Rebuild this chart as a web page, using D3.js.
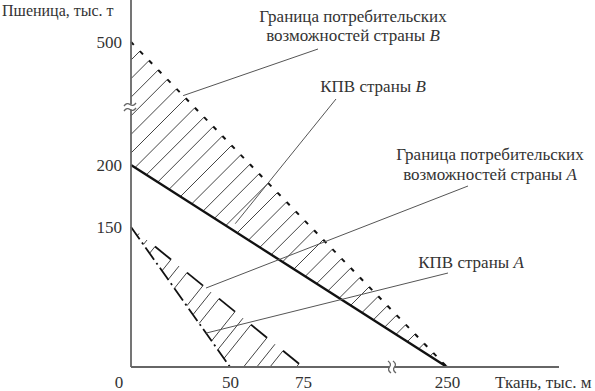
<!DOCTYPE html>
<html><head><meta charset="utf-8">
<script src="https://cdn.jsdelivr.net/npm/d3@7"></script>
<style>body{margin:0;background:#fff} svg{display:block}</style>
</head><body><svg id="c" width="595" height="391"></svg>
<script>
// ---- data ----
const xTickValues = [0, 50, 75, 250];
const yTickValues = [0, 150, 200, 500];
const kpvA = [[0, 150], [50, 0]];
const boundaryA = [[0, 150], [75, 0]];
const kpvB = [[0, 200], [250, 0]];
const boundaryB = [[0, 500], [250, 0]];
const xAxisTitle = "Ткань, тыс. м";
const yAxisTitle = "Пшеница, тыс. т";
const annotations = [
  {lines: [["Граница потребительских"], ["возможностей страны ", "B"]]},
  {lines: [["КПВ страны ", "B"]]},
  {lines: [["Граница потребительских"], ["возможностей страны ", "A"]]},
  {lines: [["КПВ страны ", "A"]]}
];

// ---- layout ----
const FONT = "'Liberation Serif', 'DejaVu Serif', serif";
const FS = 17;
const svg = d3.select("#c");
const x = d3.scaleLinear().domain(xTickValues).range([131, 230, 303, 447]);
const y = d3.scaleLinear().domain(yTickValues).range([367, 227, 165, 42]);
const P = d => [x(d[0]), y(d[1])];
const lerp = (a, b, t) => [a[0] + t * (b[0] - a[0]), a[1] + t * (b[1] - a[1])];

function hatchSegments(poly, normal, cs) {
  const dot = p => normal[0] * p[0] + normal[1] * p[1];
  const segs = [];
  cs.forEach(c => {
    const pts = [];
    for (let i = 0; i < poly.length; i++) {
      const a = poly[i], b = poly[(i + 1) % poly.length];
      const da = dot(a) - c, db = dot(b) - c;
      if ((da <= 0 && db > 0) || (da > 0 && db <= 0)) {
        const t = da / (da - db);
        pts.push(lerp(a, b, t));
      }
    }
    if (pts.length >= 2) {
      pts.sort((p, q) => p[1] - q[1]);
      segs.push({top: pts[0], bottom: pts[pts.length - 1]});
    } else segs.push(null);
  });
  return segs;
}

const g = svg.append("g");

// ---- hatching B (between KPV B and boundary B) ----
const polyB = [P(boundaryB[0]), P(kpvB[0]), P(kpvB[1])];
const nB = [1, 1];
const csB = d3.range(191, polyB[2][0] + polyB[2][1], 18.6);
const segB = hatchSegments(polyB, nB, csB).filter(s => s);
g.append("g").selectAll("line").data(segB).join("line")
  .attr("x1", d => d.bottom[0]).attr("y1", d => d.bottom[1])
  .attr("x2", d => d.top[0]).attr("y2", d => d.top[1])
  .attr("stroke", "#444").attr("stroke-width", 1);
{
  const b0 = P(boundaryB[0]), b1 = P(boundaryB[1]);
  const len = Math.hypot(b1[0] - b0[0], b1[1] - b0[1]);
  const u = [(b1[0] - b0[0]) / len, (b1[1] - b0[1]) / len];
  const dashes = [[b0, [b0[0] + u[0] * 4, b0[1] + u[1] * 4]]].concat(
    segB.map(s => [s.top, [s.top[0] + u[0] * 4.5, s.top[1] + u[1] * 4.5]]));
  g.append("g").selectAll("line").data(dashes).join("line")
    .attr("x1", d => d[0][0]).attr("y1", d => d[0][1])
    .attr("x2", d => d[1][0]).attr("y2", d => d[1][1])
    .attr("stroke", "#111").attr("stroke-width", 2);
}

// ---- hatching A (between KPV A and boundary A) ----
const a0 = P(boundaryA[0]), a1 = P(boundaryA[1]);
const polyA = [a0, P(kpvA[1]), a1];
const nA = [1.25, 1];
const aLen = a1[0] - a0[0];
const jA = d3.range(21);
const csA = jA.map(j => { const p = lerp(a0, a1, (8 + 8 * j) / aLen); return nA[0] * p[0] + nA[1] * p[1]; });
const segAll = hatchSegments(polyA, nA, csA);
const segA = segAll.filter((s, j) => s && (j % 2 === 0 || j % 4 === 1));
g.append("g").selectAll("line").data(segA).join("line")
  .attr("x1", d => d.bottom[0]).attr("y1", d => d.bottom[1])
  .attr("x2", d => d.top[0]).attr("y2", d => d.top[1])
  .attr("stroke", "#444").attr("stroke-width", 1);
{
  const dashes = [];
  for (let j = 2; j + 2 < segAll.length; j += 4)
    if (segAll[j] && segAll[j + 2]) dashes.push([segAll[j].top, segAll[j + 2].top]);
  g.append("g").selectAll("line").data(dashes).join("line")
    .attr("x1", d => d[0][0]).attr("y1", d => d[0][1])
    .attr("x2", d => d[1][0]).attr("y2", d => d[1][1])
    .attr("stroke", "#111").attr("stroke-width", 1.8);
}

// ---- lines ----
const line = d3.line().x(d => x(d[0])).y(d => y(d[1]));
g.append("path").attr("d", line(kpvB)).attr("fill", "none")
  .attr("stroke", "#111").attr("stroke-width", 2.4);
g.append("path").attr("d", line(kpvA)).attr("fill", "none")
  .attr("stroke", "#111").attr("stroke-width", 1.8)
  .attr("stroke-dasharray", "15,4,2,4");

// ---- axes ----
const axisColor = "#666";
g.append("line").attr("x1", x(0)).attr("x2", x(0)).attr("y1", 0).attr("y2", y(0))
  .attr("stroke", axisColor).attr("stroke-width", 1.8);
g.append("line").attr("x1", x(0)).attr("x2", 559).attr("y1", y(0)).attr("y2", y(0))
  .attr("stroke", axisColor).attr("stroke-width", 1.8);

const yAxis = svg.append("g").attr("transform", `translate(${x(0)},0)`)
  .call(d3.axisLeft(y).tickValues(yTickValues.slice(1)).tickSize(0).tickPadding(9).tickFormat(d3.format("d")));
const xAxis = svg.append("g").attr("transform", `translate(0,${y(0)})`)
  .call(d3.axisBottom(x).tickValues(xTickValues.slice(1)).tickSize(0).tickPadding(9).tickFormat(d3.format("d")));
[yAxis, xAxis].forEach(a => {
  a.select(".domain").remove();
  a.selectAll("text").attr("font-family", FONT).attr("font-size", FS).attr("fill", "#333");
});
svg.append("text").attr("x", x(0) - 12).attr("y", 388).attr("text-anchor", "middle")
  .attr("font-family", FONT).attr("font-size", FS).attr("fill", "#333").text(xTickValues[0]);

// axis titles
svg.append("text").attr("x", 2).attr("y", 16).attr("text-anchor", "start")
  .attr("font-family", FONT).attr("font-size", 16).attr("fill", "#333").text(yAxisTitle);
svg.append("text").attr("x", 495).attr("y", 388).attr("text-anchor", "start")
  .attr("font-family", FONT).attr("font-size", FS).attr("fill", "#333").text(xAxisTitle);

// ---- axis breaks ----
{
  const yb = 107, xb = 392, yx = x(0), xy = y(0);
  const br = svg.append("g");
  br.append("rect").attr("x", yx - 4).attr("y", yb - 2.5).attr("width", 8).attr("height", 5).attr("fill", "#fff");
  [yb - 2.5, yb + 2.5].forEach(yy => br.append("path")
    .attr("d", `M${yx - 7},${yy + 1.5} q3,-4 6,-1.5 t6,-1.5`)
    .attr("fill", "none").attr("stroke", axisColor).attr("stroke-width", 1.3));
  br.append("rect").attr("x", xb - 2.5).attr("y", xy - 4).attr("width", 5).attr("height", 8).attr("fill", "#fff");
  [xb - 2.5, xb + 2.5].forEach(xx => br.append("path")
    .attr("d", `M${xx - 1.5},${xy - 6} q4,3 1.5,6 t1.5,6`)
    .attr("fill", "none").attr("stroke", axisColor).attr("stroke-width", 1.3));
}

// ---- annotations ----
const bB0 = P(boundaryB[0]), bB1 = P(boundaryB[1]);
const kB0 = P(kpvB[0]), kB1 = P(kpvB[1]);
const kA0 = P(kpvA[0]), kA1 = P(kpvA[1]);
const pointerTargets = [
  lerp(bB0, bB1, 0.165),
  [lerp(kB0, kB1, 0.33)[0], lerp(kB0, kB1, 0.33)[1] - 8],
  lerp(a0, a1, 0.436),
  lerp(kA0, kA1, 0.758)
];
const annLayout = [
  {cx: 353, base: [22, 41], from: [318, 49]},
  {cx: 373, base: [92], from: [336, 99]},
  {cx: 490, base: [160, 180], from: [468, 186]},
  {cx: 471, base: [268], from: [448, 273]}
];
annotations.forEach((a, i) => {
  const L = annLayout[i];
  svg.append("line").attr("x1", L.from[0]).attr("y1", L.from[1])
    .attr("x2", pointerTargets[i][0]).attr("y2", pointerTargets[i][1])
    .attr("stroke", "#555").attr("stroke-width", 1);
  a.lines.forEach((parts, j) => {
    const t = svg.append("text").attr("x", L.cx).attr("y", L.base[j]).attr("text-anchor", "middle")
      .attr("font-family", FONT).attr("font-size", FS).attr("fill", "#333");
    parts.forEach((p, k) => t.append("tspan").attr("font-style", k === 1 ? "italic" : "normal").text(p));
  });
});
</script>
</body></html>
